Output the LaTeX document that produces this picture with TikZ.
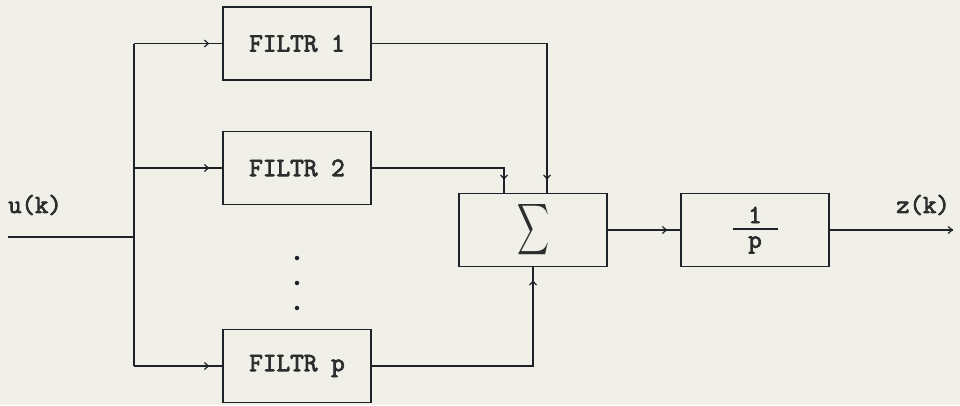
\documentclass[tikz,border=0pt]{standalone}
\usepackage{fontspec}
\usepackage{graphicx}
\setmonofont{Latin Modern Mono}[AutoFakeBold=3]
\usetikzlibrary{arrows.meta,decorations.markings}
\definecolor{ink}{RGB}{28,34,40}
\definecolor{txt}{RGB}{45,45,45}
\definecolor{paper}{RGB}{240,240,233}
\begin{document}
\begin{tikzpicture}[x=1pt,y=-1pt,
  line width=1.5pt, color=ink,
  blk/.style={draw=ink, rectangle, inner sep=0pt, minimum width=148pt, minimum height=73pt,
     font=\fontsize{26.5}{30}\selectfont\ttfamily\bfseries, text=txt},
  lbl/.style={font=\fontsize{26}{30}\selectfont\ttfamily\bfseries, text=txt},
  tick/.style={postaction={decorate}, decoration={markings,
     mark=at position -13pt with {\arrow{Straight Barb[length=4pt,width=7pt,line width=1.2pt]}}}},
  endtip/.style={postaction={decorate}, decoration={markings,
     mark=at position 1 with {\arrow{Straight Barb[length=4pt,width=7pt,line width=1.2pt]}}}}
]
\useasboundingbox (0,0) rectangle (960,405);
\fill[paper] (0,0) rectangle (960,405);

\node[blk] (f1) at (297,43.5) {FILTR 1};
\node[blk] (f2) at (297,168) {FILTR 2};
\node[blk] (fp) at (297,366) {FILTR p};
\node[blk] (sum) at (533,230) {\resizebox{32pt}{51pt}{$\displaystyle\sum$}};
\node[blk] (inv) at (755,230) {};
\node[lbl] (one) at (755,215) {1};
\node[lbl] (pp) at (755,245) {p};
\coordinate (barl) at (733,229);
\coordinate (barr) at (778,229);
\draw[line width=1.3pt] (barl) -- (barr);

\node[circle,fill=ink,inner sep=0pt,minimum size=4.5pt] (d1) at (297,258) {};
\node[circle,fill=ink,inner sep=0pt,minimum size=4.5pt] (d2) at (297,283) {};
\node[circle,fill=ink,inner sep=0pt,minimum size=4.5pt] (d3) at (297,308) {};

\node[lbl] (ulab) at (35,205) {u(k)};
\node[lbl] (zlab) at (923,205) {z(k)};

\coordinate (uin) at (8,237);
\coordinate (bm) at (134,237);
\coordinate (bt) at (134,43.5);
\coordinate (b2) at (134,168);
\coordinate (bb) at (134,366);
\coordinate (zout) at (953,230);

\draw (uin) -- (bm);
\draw (bt) -- (bb);
\draw[tick] (bt) -- (f1.west);
\draw[tick] (b2) -- (f2.west);
\draw[tick] (bb) -- (fp.west);

\draw[tick] (f1.east) -| ([xshift=14pt]sum.north);
\draw[tick] (f2.east) -| ([xshift=-29pt]sum.north);
\draw[tick] (fp.east) -| (sum.south);

\draw[tick] (sum.east) -- (inv.west);
\draw[endtip] (inv.east) -- (zout);
\end{tikzpicture}
\end{document}
